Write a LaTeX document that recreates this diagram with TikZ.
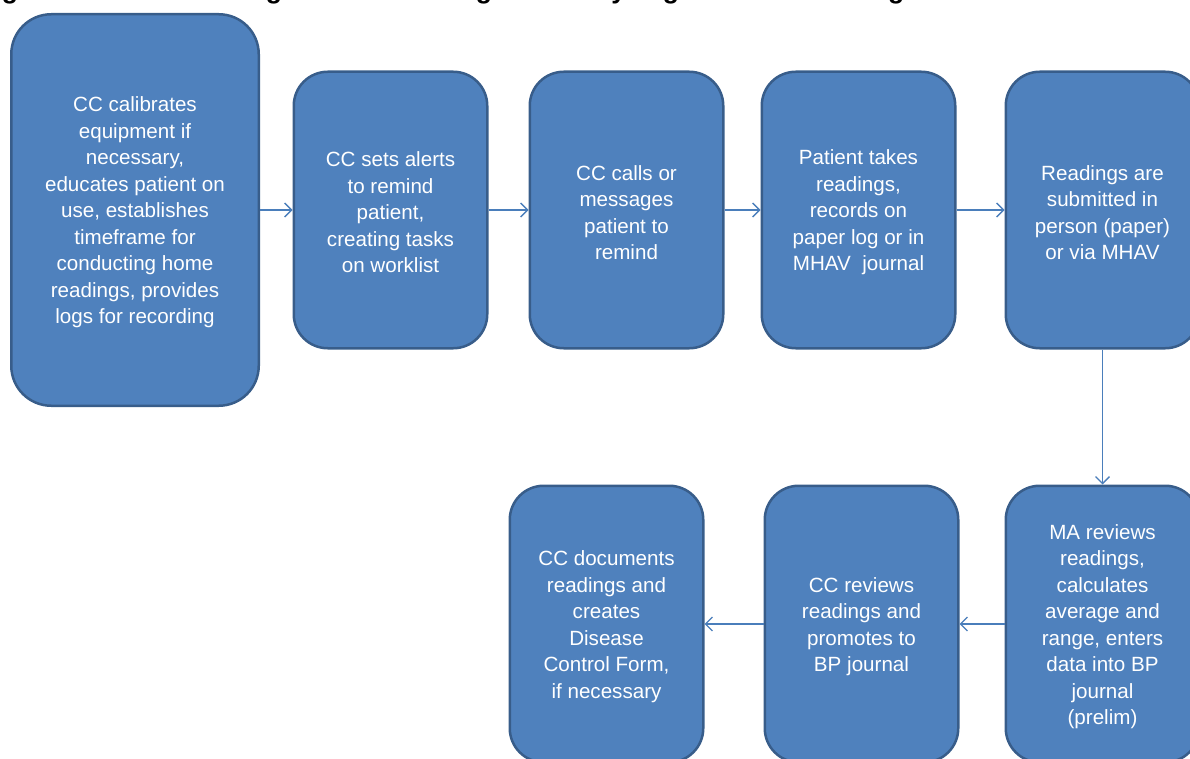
\documentclass[tikz,border=0pt]{standalone}
\usepackage{fontspec}
\setmainfont{Liberation Sans}
\usetikzlibrary{arrows.meta}
\definecolor{boxfill}{HTML}{4F81BD}
\definecolor{boxline}{HTML}{385D8A}
\definecolor{arrowc}{HTML}{4A7EBB}
% taller first line, lowers the text block a little inside its box
\newcommand\firstline{\rule{0pt}{20pt}}
\begin{document}
\begin{tikzpicture}[x=1pt,y=-1pt,
  stepbox/.style={draw=boxline, line width=2.5pt, fill=boxfill,
    rounded corners=34pt, text=white, align=center,
    font=\fontsize{20.6}{26.5}\selectfont, inner sep=0pt,
    minimum width=193.5pt, minimum height=276.5pt},
  flow/.style={draw=arrowc, line width=1.3pt,
    -{Straight Barb[length=7pt,width=14pt]}}]
\useasboundingbox (0,0) rectangle (1190,759);
\clip (0,0) rectangle (1190,759);

% caption line (only its lower edge lies inside the page)
\node[anchor=base west, inner sep=0pt,
  font=\bfseries\fontsize{26.5}{30}\selectfont] (title) at (-22,-1.5)
  {Figure 6. Workflow Diagram: Processing and Analyzing Home Monitoring Data};

% upper row
\node[stepbox, minimum width=247.5pt, minimum height=391.5pt,
  rounded corners=40pt] (b1) at (135,210)
  {\firstline CC calibrates\\equipment if\\necessary,\\educates patient on\\use, establishes\\timeframe for\\conducting home\\readings, provides\\logs for recording};
\node[stepbox] (b2) at (390.5,210)
  {\firstline CC sets alerts\\to remind\\patient,\\creating tasks\\on worklist};
\node[stepbox] (b3) at (626.5,210)
  {\firstline CC calls or\\messages\\patient to\\remind};
\node[stepbox] (b4) at (858.5,210)
  {\firstline Patient takes\\readings,\\records on\\paper log or in\\MHAV\ \ journal};
\node[stepbox] (b5) at (1102.5,210)
  {\firstline Readings are\\submitted in\\person (paper)\\or via MHAV};

% lower row
\node[stepbox] (b6) at (1102.5,624)
  {\firstline MA reviews\\readings,\\calculates\\average and\\range, enters\\data into BP\\journal\\(prelim)};
\node[stepbox] (b7) at (861.5,624)
  {\firstline CC reviews\\readings and\\promotes to\\BP journal};
\node[stepbox] (b8) at (606.5,624)
  {\firstline CC documents\\readings and\\creates\\Disease\\Control Form,\\if necessary};

% connectors
\draw[flow] (b1) -- (b2);
\draw[flow] (b2) -- (b3);
\draw[flow] (b3) -- (b4);
\draw[flow] (b4) -- (b5);
\draw[flow] (b5) -- (b6);
\draw[flow] (b6) -- (b7);
\draw[flow] (b7) -- (b8);
\end{tikzpicture}
\end{document}
